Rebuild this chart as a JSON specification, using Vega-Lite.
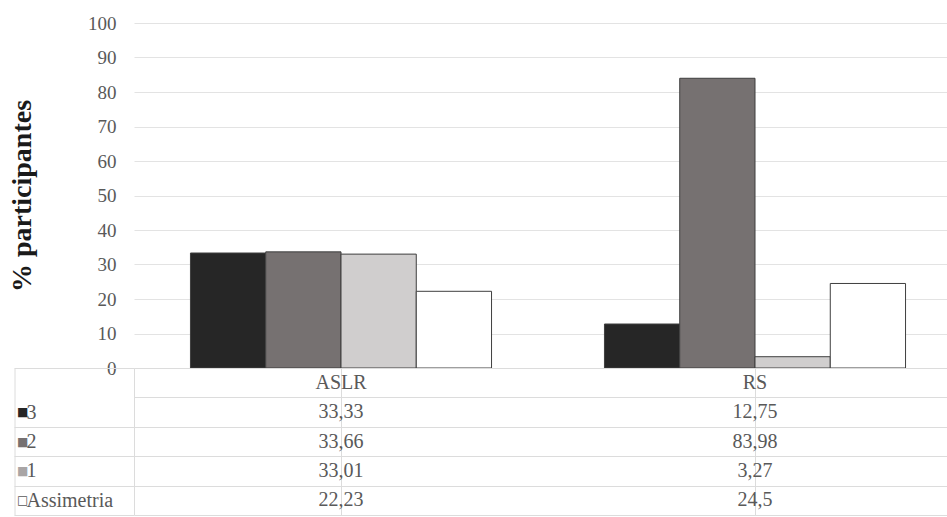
{
  "$schema": "https://vega.github.io/schema/vega-lite/v6.json",
  "padding": {"left": 8, "top": 14, "right": 0, "bottom": 0},
  "background": "white",
  "config": {
    "font": "Liberation Serif",
    "view": {"stroke": null},
    "locale": {"number": {"decimal": ",", "thousands": ".", "grouping": [3], "currency": ["", ""]}}
  },
  "datasets": {
    "valores": [
      {"grupo": "ASLR", "serie": "3", "valor": 33.33},
      {"grupo": "ASLR", "serie": "2", "valor": 33.66},
      {"grupo": "ASLR", "serie": "1", "valor": 33.01},
      {"grupo": "ASLR", "serie": "Assimetria", "valor": 22.23},
      {"grupo": "RS", "serie": "3", "valor": 12.75},
      {"grupo": "RS", "serie": "2", "valor": 83.98},
      {"grupo": "RS", "serie": "1", "valor": 3.27},
      {"grupo": "RS", "serie": "Assimetria", "valor": 24.5}
    ]
  },
  "bounds": "flush",
  "spacing": 0,
  "vconcat": [
    {
      "width": 814,
      "height": 345,
      "data": {"name": "valores"},
      "mark": {"type": "bar", "stroke": "#3f3f3f", "strokeWidth": 1},
      "encoding": {
        "x": {
          "field": "grupo", "type": "nominal", "sort": ["ASLR", "RS"],
          "scale": {"range": [0, 828], "paddingInner": 0, "paddingOuter": 0},
          "axis": null
        },
        "xOffset": {
          "field": "serie", "type": "nominal", "sort": ["3", "2", "1", "Assimetria"],
          "scale": {"paddingInner": 0, "paddingOuter": 0.75}
        },
        "y": {
          "field": "valor", "type": "quantitative",
          "scale": {"domain": [0, 100]},
          "axis": {
            "title": "%  participantes",
            "values": [0, 10, 20, 30, 40, 50, 60, 70, 80, 90, 100],
            "grid": true, "gridColor": "#e3e3e3",
            "domain": false, "ticks": false,
            "labelFontSize": 19, "labelColor": "#595959", "labelPadding": 18,
            "titleFontSize": 28, "titleFontWeight": "bold", "titleColor": "#1a1a1a",
            "titlePadding": 51
          }
        },
        "color": {
          "field": "serie", "type": "nominal",
          "scale": {"domain": ["3", "2", "1", "Assimetria"], "range": ["#262626", "#767171", "#d0cece", "#ffffff"]},
          "legend": null
        }
      }
    },
    {
      "width": 814,
      "height": 147,
      "layer": [
        {
          "data": {"name": "valores"},
          "mark": {"type": "text", "fontSize": 20, "color": "#595959", "align": "center", "baseline": "middle"},
          "encoding": {
            "x": {
              "field": "grupo", "type": "nominal", "sort": ["ASLR", "RS"],
              "scale": {"range": [0, 828], "paddingInner": 0, "paddingOuter": 0},
              "axis": {"title": null, "labels": false, "ticks": false, "domain": false, "grid": true, "gridColor": "#dcdcdc", "bandPosition": 0}
            },
            "y": {
              "field": "serie", "type": "nominal",
              "scale": {"domain": ["cab", "3", "2", "1", "Assimetria"], "paddingInner": 0, "paddingOuter": 0},
              "axis": {
                "orient": "left", "title": null, "tickBand": "extent",
                "domain": true, "domainColor": "#dcdcdc",
                "ticks": true, "tickSize": 120,
                "tickColor": {"condition": {"test": "datum.value === 'cab'", "value": "transparent"}, "value": "#dcdcdc"},
                "grid": true, "gridColor": "#dcdcdc",
                "labelAlign": "left", "labelBaseline": "middle", "labelPadding": -12,
                "labelFontSize": 20, "labelColor": "#595959",
                "labelExpr": "datum.value === 'cab' ? '' : datum.value"
              }
            },
            "text": {"field": "valor", "type": "quantitative", "format": "~g"}
          }
        },
        {
          "data": {"name": "valores"},
          "transform": [{"filter": "datum.serie === '3'"}],
          "mark": {"type": "text", "fontSize": 20, "color": "#595959", "align": "center", "baseline": "middle"},
          "encoding": {
            "x": {
              "field": "grupo", "type": "nominal", "sort": ["ASLR", "RS"],
              "scale": {"range": [0, 828], "paddingInner": 0, "paddingOuter": 0}
            },
            "y": {
              "datum": "cab", "type": "nominal",
              "axis": {
                "orient": "left", "title": null, "offset": 119.5,
                "domain": true, "domainColor": "#dcdcdc",
                "ticks": false, "grid": false,
                "labelAlign": "left", "labelBaseline": "middle", "labelPadding": -2,
                "labelFont": "DejaVu Sans", "labelFontSize": 12,
                "labelExpr": "datum.value === 'cab' ? '' : (datum.value === 'Assimetria' ? '□' : '■')",
                "labelColor": {
                  "condition": [
                    {"test": "datum.value === '3'", "value": "#262626"},
                    {"test": "datum.value === '2'", "value": "#767171"},
                    {"test": "datum.value === '1'", "value": "#a9a5a5"}
                  ],
                  "value": "#595959"
                }
              }
            },
            "text": {"field": "grupo", "type": "nominal"}
          }
        }
      ],
      "resolve": {"axis": {"y": "independent"}}
    }
  ]
}
